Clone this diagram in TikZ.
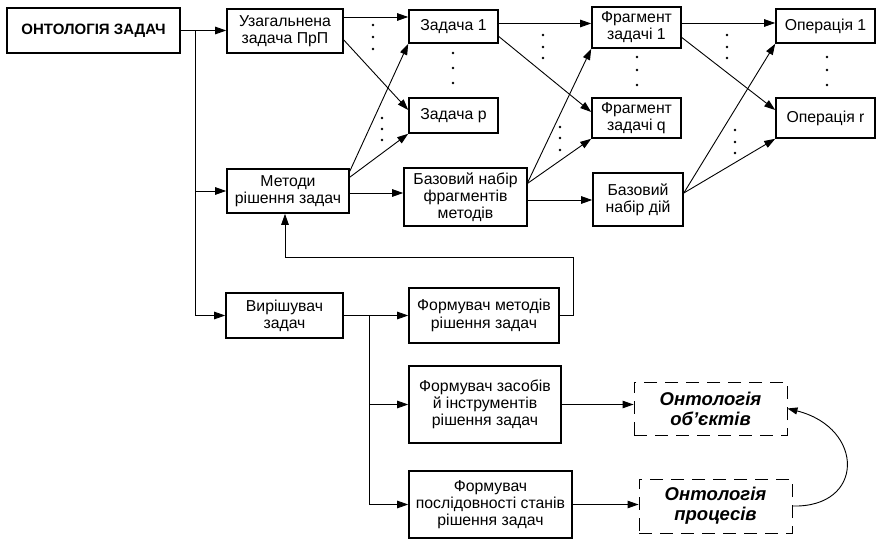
\documentclass[tikz,border=0pt]{standalone}
\usepackage{fontspec}
\setmainfont{Liberation Sans}
\usetikzlibrary{arrows.meta,calc}
\begin{document}
\begin{tikzpicture}[x=1pt,y=-1pt,
  box/.style={draw,line width=1.6pt,inner sep=0pt,align=center,font=\fontsize{15.8}{17.2}\selectfont},
  mainbox/.style={box,line width=2.6pt,font=\bfseries\fontsize{15}{18}\selectfont},
  dbox/.style={draw,line width=0.9pt,dash pattern=on 13pt off 8pt,inner sep=0pt,align=center,font=\bfseries\itshape\fontsize{18.5}{20}\selectfont},
  con/.style={line width=0.9pt},
  arr/.style={con,-{Triangle[length=11pt,width=7.5pt]}},
  dot/.style={fill,circle,inner sep=0pt,minimum size=2.8pt}]
\useasboundingbox (0,0) rectangle (879,540);
% nodes
\node[mainbox,minimum width=173,minimum height=45] (ont) at (93.5,30.5) {ОНТОЛОГІЯ ЗАДАЧ};
\node[box,minimum width=116,minimum height=44] (gen) at (285,31) {Узагальнена\\задача ПрП};
\node[box,minimum width=122,minimum height=44] (meth) at (288,191) {Методи\\рішення задач};
\node[box,minimum width=89,minimum height=33] (t1) at (453.5,26.5) {Задача 1};
\node[box,minimum width=89,minimum height=35] (tp) at (453.5,115.5) {Задача p};
\node[box,minimum width=123,minimum height=58] (bfm) at (465.5,197) {Базовий набір\\фрагментів\\методів};
\node[box,minimum width=89,minimum height=41] (f1) at (636.5,27.5) {Фрагмент\\задачі 1};
\node[box,minimum width=89,minimum height=40] (fq) at (636.5,118) {Фрагмент\\задачі q};
\node[box,minimum width=90,minimum height=53] (bd) at (638,199.5) {Базовий\\набір дій};
\node[box,minimum width=99,minimum height=34] (o1) at (825.5,26) {Операція 1};
\node[box,minimum width=99,minimum height=40] (or) at (825.5,118) {Операція r};
\node[box,minimum width=117,minimum height=45] (sol) at (284.5,315.5) {Вирішувач\\задач};
\node[box,minimum width=150,minimum height=55] (fm) at (484,315.5) {Формувач методів\\рішення задач};
\node[box,minimum width=152,minimum height=77] (fz) at (485,404.5) {Формувач засобів\\й інструментів\\рішення задач};
\node[box,minimum width=163,minimum height=67] (fp) at (490.5,504.5) {Формувач\\послідовності станів\\рішення задач};
\node[dbox,minimum width=153,minimum height=53] (oo) at (710.5,408.5) {Онтологія\\об’єктів};
\node[dbox,minimum width=153,minimum height=54] (op) at (715.5,506) {Онтологія\\процесів};
% trunk from main box
\coordinate (tr) at (195,30.5);
\draw[arr] (ont.east) -- (ont.east -| gen.west);
\draw[arr] (tr) |- (meth.west);
\draw[arr] (tr) |- (sol.west);
% upper network
\draw[arr] ([yshift=14pt]gen.east) -- ([yshift=14pt]gen.east -| t1.west);
\draw[arr] ([yshift=-9pt]gen.east) -- ([yshift=5.5pt]tp.west);
\draw[arr] ([yshift=-3pt]meth.north east) -- (t1.south west);
\draw[arr] ([yshift=-9pt]meth.north east) -- (tp.south west);
\draw[arr] ([yshift=-2pt]meth.east) -- ([yshift=-2pt]meth.east -| bfm.west);
\draw[arr] ([yshift=3pt]t1.east) -- ([yshift=3pt]t1.east -| f1.west);
\draw[arr] ([yshift=-10pt]t1.east) -- ([yshift=6pt]fq.west);
\draw[arr] ([yshift=-15pt]bfm.north east) -- (f1.south west);
\draw[arr] ([yshift=-16pt]bfm.north east) -- (fq.south west);
\draw[arr] ([yshift=-3pt]bfm.east) -- ([yshift=-3pt]bfm.east -| bd.west);
\draw[arr] ([yshift=4.5pt]f1.east) -- ([yshift=4.5pt]f1.east -| o1.west);
\draw[arr] ([yshift=-10pt]f1.east) -- ([yshift=8pt]or.west);
\draw[arr] ([yshift=6.5pt]bd.east) -- (o1.south west);
\draw[arr] ([yshift=6.5pt]bd.east) -- (or.south west);
% feedback
\coordinate (fb) at (573,257);
\draw[arr] (fm.east) -| (fb) -| ([xshift=-3pt]meth.south);
% solver branches
\coordinate (tr2) at (369,315.5);
\draw[arr] (sol.east) -- (fm.west);
\draw[arr] (tr2) |- (fz.west);
\draw[arr] (tr2) |- (fp.west);
\draw[arr] (fz.east) -- (fz.east -| oo.west);
\draw[arr] (fp.east) -- (fp.east -| op.west);
\draw[con,-{Triangle[length=10pt,width=7pt]}] (op.east) .. controls (865,508) and (865,428) .. (oo.east);
% dots
\foreach \x/\a/\b/\c in {373/25/37/49, 382/118/129/140, 453/53/68/83, 543/35/47/58, 560/127/138/150, 637/57/70/85, 727/35/47/58, 735/130/142/153, 827/57/70/85}{
  \node[dot] at (\x,\a) {};
  \node[dot] at (\x,\b) {};
  \node[dot] at (\x,\c) {};
}
\end{tikzpicture}
\end{document}
